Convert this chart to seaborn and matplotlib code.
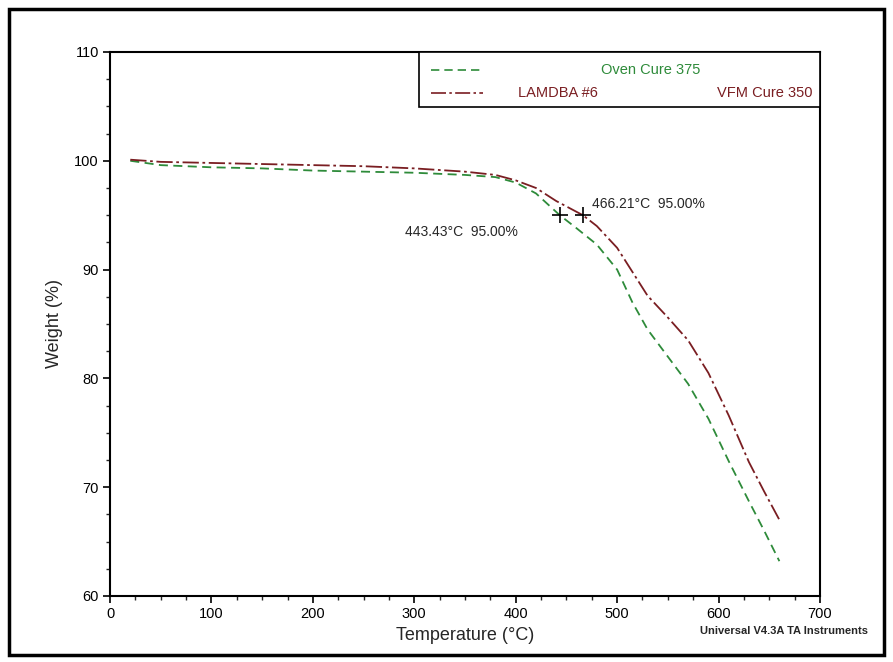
import numpy as np
import pandas as pd
import matplotlib
matplotlib.use("Agg")
import matplotlib.pyplot as plt
from matplotlib.patches import Rectangle
from matplotlib.lines import Line2D
from matplotlib.ticker import MultipleLocator
import seaborn as sns

# ======================================
# Data
# ======================================

oven_temp = [20, 50, 100, 150, 200, 250, 300, 350, 380, 400, 420, 443.43,
             460, 480, 500, 515, 530, 550, 570, 590, 610, 630, 645, 660]
oven_weight = [100.0, 99.6, 99.4, 99.3, 99.1, 99.0, 98.9, 98.7, 98.5, 98.0,
               97.0, 95.0, 93.8, 92.3, 90.0, 87.0, 84.5, 82.0, 79.5, 76.3,
               72.4, 68.7, 66.0, 63.2]

vfm_temp = [20, 50, 100, 150, 200, 250, 300, 350, 380, 400, 420, 440,
            466.21, 480, 500, 515, 530, 550, 570, 590, 610, 630, 645, 660]
vfm_weight = [100.1, 99.9, 99.8, 99.7, 99.6, 99.5, 99.3, 99.0, 98.7, 98.2,
              97.5, 96.3, 95.0, 94.0, 92.0, 89.8, 87.6, 85.6, 83.5, 80.5,
              76.6, 72.3, 69.6, 67.0]

marker_temp = [443.43, 466.21]
marker_weight = [95.0, 95.0]
marker_labels = ["443.43°C  95.00%", "466.21°C  95.00%"]

GREEN = "#2e8b3a"
DARKRED = "#7a1e22"

# ======================================
# Figure
# ======================================

sns.set_theme(style="ticks")
plt.rcParams["font.family"] = ["Liberation Sans", "DejaVu Sans"]

fig = plt.figure(figsize=(8.93, 6.62), dpi=100)
ax = fig.add_axes([0.1232, 0.0997, 0.795, 0.8218])

oven_df = pd.DataFrame({"Temperature": oven_temp, "Weight": oven_weight})
vfm_df = pd.DataFrame({"Temperature": vfm_temp, "Weight": vfm_weight})

sns.lineplot(data=oven_df, x="Temperature", y="Weight", ax=ax,
             color=GREEN, linewidth=1.3, sort=False, estimator=None)
ax.lines[-1].set_dashes([5, 3])

sns.lineplot(data=vfm_df, x="Temperature", y="Weight", ax=ax,
             color=DARKRED, linewidth=1.3, sort=False, estimator=None)
ax.lines[-1].set_dashes([9, 2, 1.5, 2])

ax.scatter(marker_temp, marker_weight, marker="+", s=130,
           color="black", linewidths=1.2, zorder=5)

ax.text(291, 93.45, marker_labels[0], fontsize=10, va="center", ha="left")
ax.text(475, 96.0, marker_labels[1], fontsize=10, va="center", ha="left")

# ======================================
# Axes styling
# ======================================

ax.set_xlim(0, 700)
ax.set_ylim(60, 110)
ax.xaxis.set_major_locator(MultipleLocator(100))
ax.xaxis.set_minor_locator(MultipleLocator(25))
ax.yaxis.set_major_locator(MultipleLocator(10))
ax.yaxis.set_minor_locator(MultipleLocator(2.5))
ax.tick_params(which="major", direction="out", length=5, width=1.2,
               labelsize=10.5, colors="black", pad=3)
ax.tick_params(which="minor", direction="out", length=3, width=1)

for side in ["top", "right", "left", "bottom"]:
    ax.spines[side].set_visible(True)
    ax.spines[side].set_color("black")
    ax.spines[side].set_linewidth(1.5)

ax.set_xlabel("Temperature (°C)", fontsize=13, labelpad=4)
ax.set_ylabel("Weight (%)", fontsize=13, labelpad=8)

# ======================================
# Table style legend (top right)
# ======================================

lx0, ly0 = 0.4352, 0.899
ax.add_patch(Rectangle((lx0, ly0), 1 - lx0, 1 - ly0, transform=ax.transAxes,
                       facecolor="white", edgecolor="black", linewidth=1.2,
                       zorder=6))
row1, row2 = 0.967, 0.925
ax.add_line(Line2D([0.452, 0.525], [row1, row1], transform=ax.transAxes,
                   color=GREEN, linewidth=1.2, dashes=[5, 3], zorder=7))
ax.add_line(Line2D([0.452, 0.525], [row2, row2], transform=ax.transAxes,
                   color=DARKRED, linewidth=1.2, dashes=[9, 2, 1.5, 2],
                   zorder=7))
ax.text(0.762, row1, "Oven Cure 375", transform=ax.transAxes, color=GREEN,
        fontsize=10.5, ha="center", va="center", zorder=7)
ax.text(0.575, row2, "LAMDBA #6", transform=ax.transAxes, color=DARKRED,
        fontsize=10.5, ha="left", va="center", zorder=7)
ax.text(0.99, row2, "VFM Cure 350", transform=ax.transAxes, color=DARKRED,
        fontsize=10.5, ha="right", va="center", zorder=7)

# ======================================
# Footer and border
# ======================================

fig.text(0.784, 0.047, "Universal V4.3A TA Instruments", fontsize=8,
         fontweight="bold", ha="left", va="center")

fig.patches.append(Rectangle((0.010, 0.011), 0.980, 0.976,
                             transform=fig.transFigure, fill=False,
                             edgecolor="black", linewidth=2.5))

fig.savefig("out.png", dpi=100, facecolor="white")
